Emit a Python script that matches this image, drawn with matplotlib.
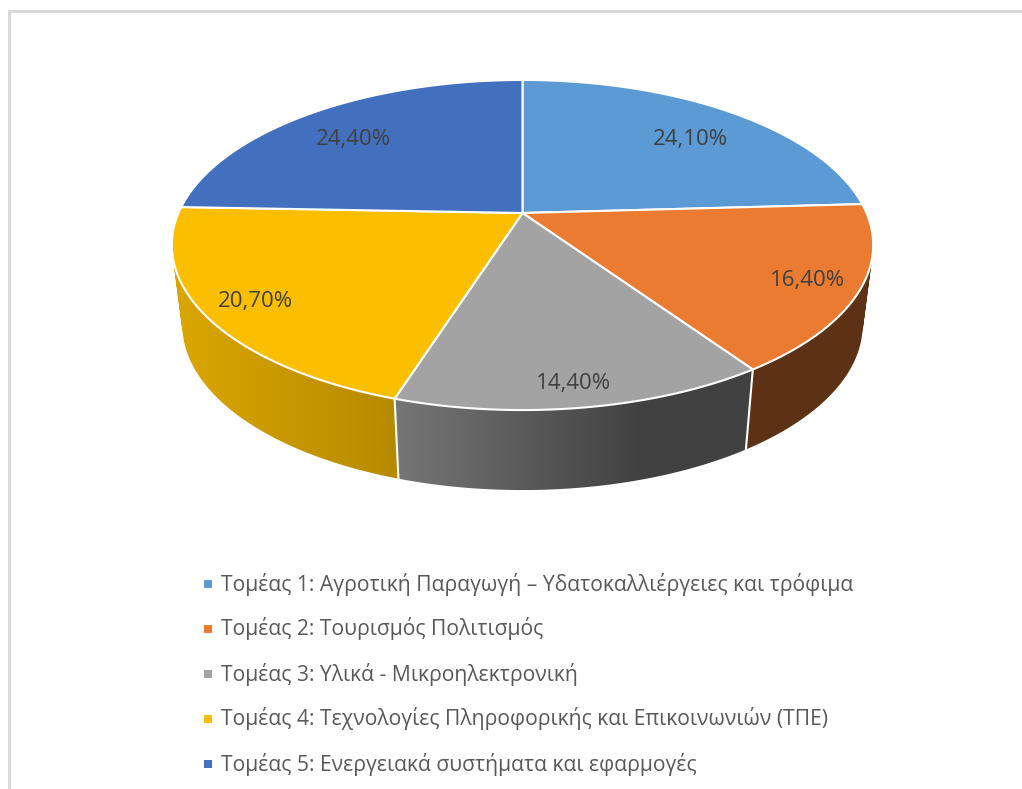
import numpy as np
import matplotlib
matplotlib.use("Agg")
import matplotlib.pyplot as plt
from matplotlib.patches import Polygon, PathPatch, Rectangle
from matplotlib.path import Path

categories = [
    "Τομέας 1: Αγροτική Παραγωγή – Υδατοκαλλιέργειες και τρόφιμα",
    "Τομέας 2: Τουρισμός Πολιτισμός",
    "Τομέας 3: Υλικά - Μικροηλεκτρονική",
    "Τομέας 4: Τεχνολογίες Πληροφορικής και Επικοινωνιών (ΤΠΕ)",
    "Τομέας 5: Ενεργειακά συστήματα και εφαρμογές",
]
values = [24.1, 16.4, 14.4, 20.7, 24.4]
colors = ["#5B9AD5", "#EA7B30", "#A3A3A3", "#FBBF00", "#4270BF"]
label_pos = [(690, 139), (808, 280), (574, 383), (255, 301), (353, 139)]

# perspective of the pie, in pixels
cx, cy = 522.5, 213
radius = 344
persp = 0.194
ybend = -117.5
depth = 80
bottom_scale = 0.97


def top_ring(pct):
    t = np.asarray(pct) / 100 * 2 * np.pi
    u, v = np.sin(t), np.cos(t)
    w = 1 + persp * v
    return cx + radius * u / w, (cy + ybend * v) / w


def bottom_ring(pct):
    x, y = top_ring(pct)
    return cx + (x - cx) * bottom_scale, y + depth


def side_shade(x):
    return np.interp(x, [175, 400, 640], [0.87, 0.72, 0.40])


def wall_path(pct_from, pct_to):
    # swept area of one slice wall, all quads wound the same way so they add up
    pcts = np.linspace(pct_from, pct_to, 120)
    xt, yt = top_ring(pcts)
    xb, yb = bottom_ring(pcts)
    quads = []
    for k in range(len(pcts) - 1):
        q = np.array([(xt[k], yt[k]), (xt[k + 1], yt[k + 1]), (xb[k + 1], yb[k + 1]), (xb[k], yb[k])])
        area = np.sum(q[:, 0] * np.roll(q[:, 1], -1) - np.roll(q[:, 0], -1) * q[:, 1])
        if area < 0:
            q = q[::-1]
        quads.append(Path(np.vstack([q, q[0]]), closed=True))
    return Path.make_compound_path(*quads)


fig = plt.figure(figsize=(10.22, 7.89), dpi=100)
ax = fig.add_axes([0, 0, 1, 1])
ax.axis("off")

# chart frame, only top and left show in the crop
ax.plot([9, 9, 1022], [789, 11, 11], color="#D9D9D9", lw=2.2, solid_joinstyle="miter")

edges = np.concatenate([[0], np.cumsum(values)])

# side walls, only the front slices show
xs = np.arange(160, 890)
for i in [1, 2, 3]:
    base = np.array(matplotlib.colors.to_rgb(colors[i]))
    grad = (base[None, :] * side_shade(xs)[:, None])[None, :, :]
    patch = PathPatch(wall_path(edges[i], edges[i + 1]), transform=ax.transData, fc="none", ec="none")
    ax.add_patch(patch)
    im = ax.imshow(grad, extent=[xs[0], xs[-1], 520, 180], aspect="auto", interpolation="bilinear", zorder=2)
    im.set_clip_path(patch)

ax.set_xlim(0, 1022)
ax.set_ylim(789, 0)

for i in [2, 3]:
    xt, yt = top_ring(edges[i])
    xb, yb = bottom_ring(edges[i])
    ax.plot([xt, xb], [yt, yb], color="white", lw=1.5, zorder=3)

# top face
for i in range(len(values)):
    pcts = np.linspace(edges[i], edges[i + 1], 200)
    x, y = top_ring(pcts)
    pts = np.column_stack([np.r_[cx, x], np.r_[cy, y]])
    ax.add_patch(Polygon(pts, closed=True, fc=colors[i], ec="white", lw=1.5, joinstyle="round", zorder=4))

for val, (x, y) in zip(values, label_pos):
    ax.text(x, y, f"{val:.2f}".replace(".", ",") + "%", ha="center", va="center",
            fontsize=16, color="#404040", family="Open Sans", zorder=5)

# legend
for i, name in enumerate(categories):
    y = 584 + 45 * i
    ax.add_patch(Rectangle((204, y - 4), 8, 8, fc=colors[i], ec="none"))
    ax.text(221, y, name, ha="left", va="center", fontsize=15.25, color="#595959", family="Open Sans")

fig.savefig("out.png", dpi=100)
